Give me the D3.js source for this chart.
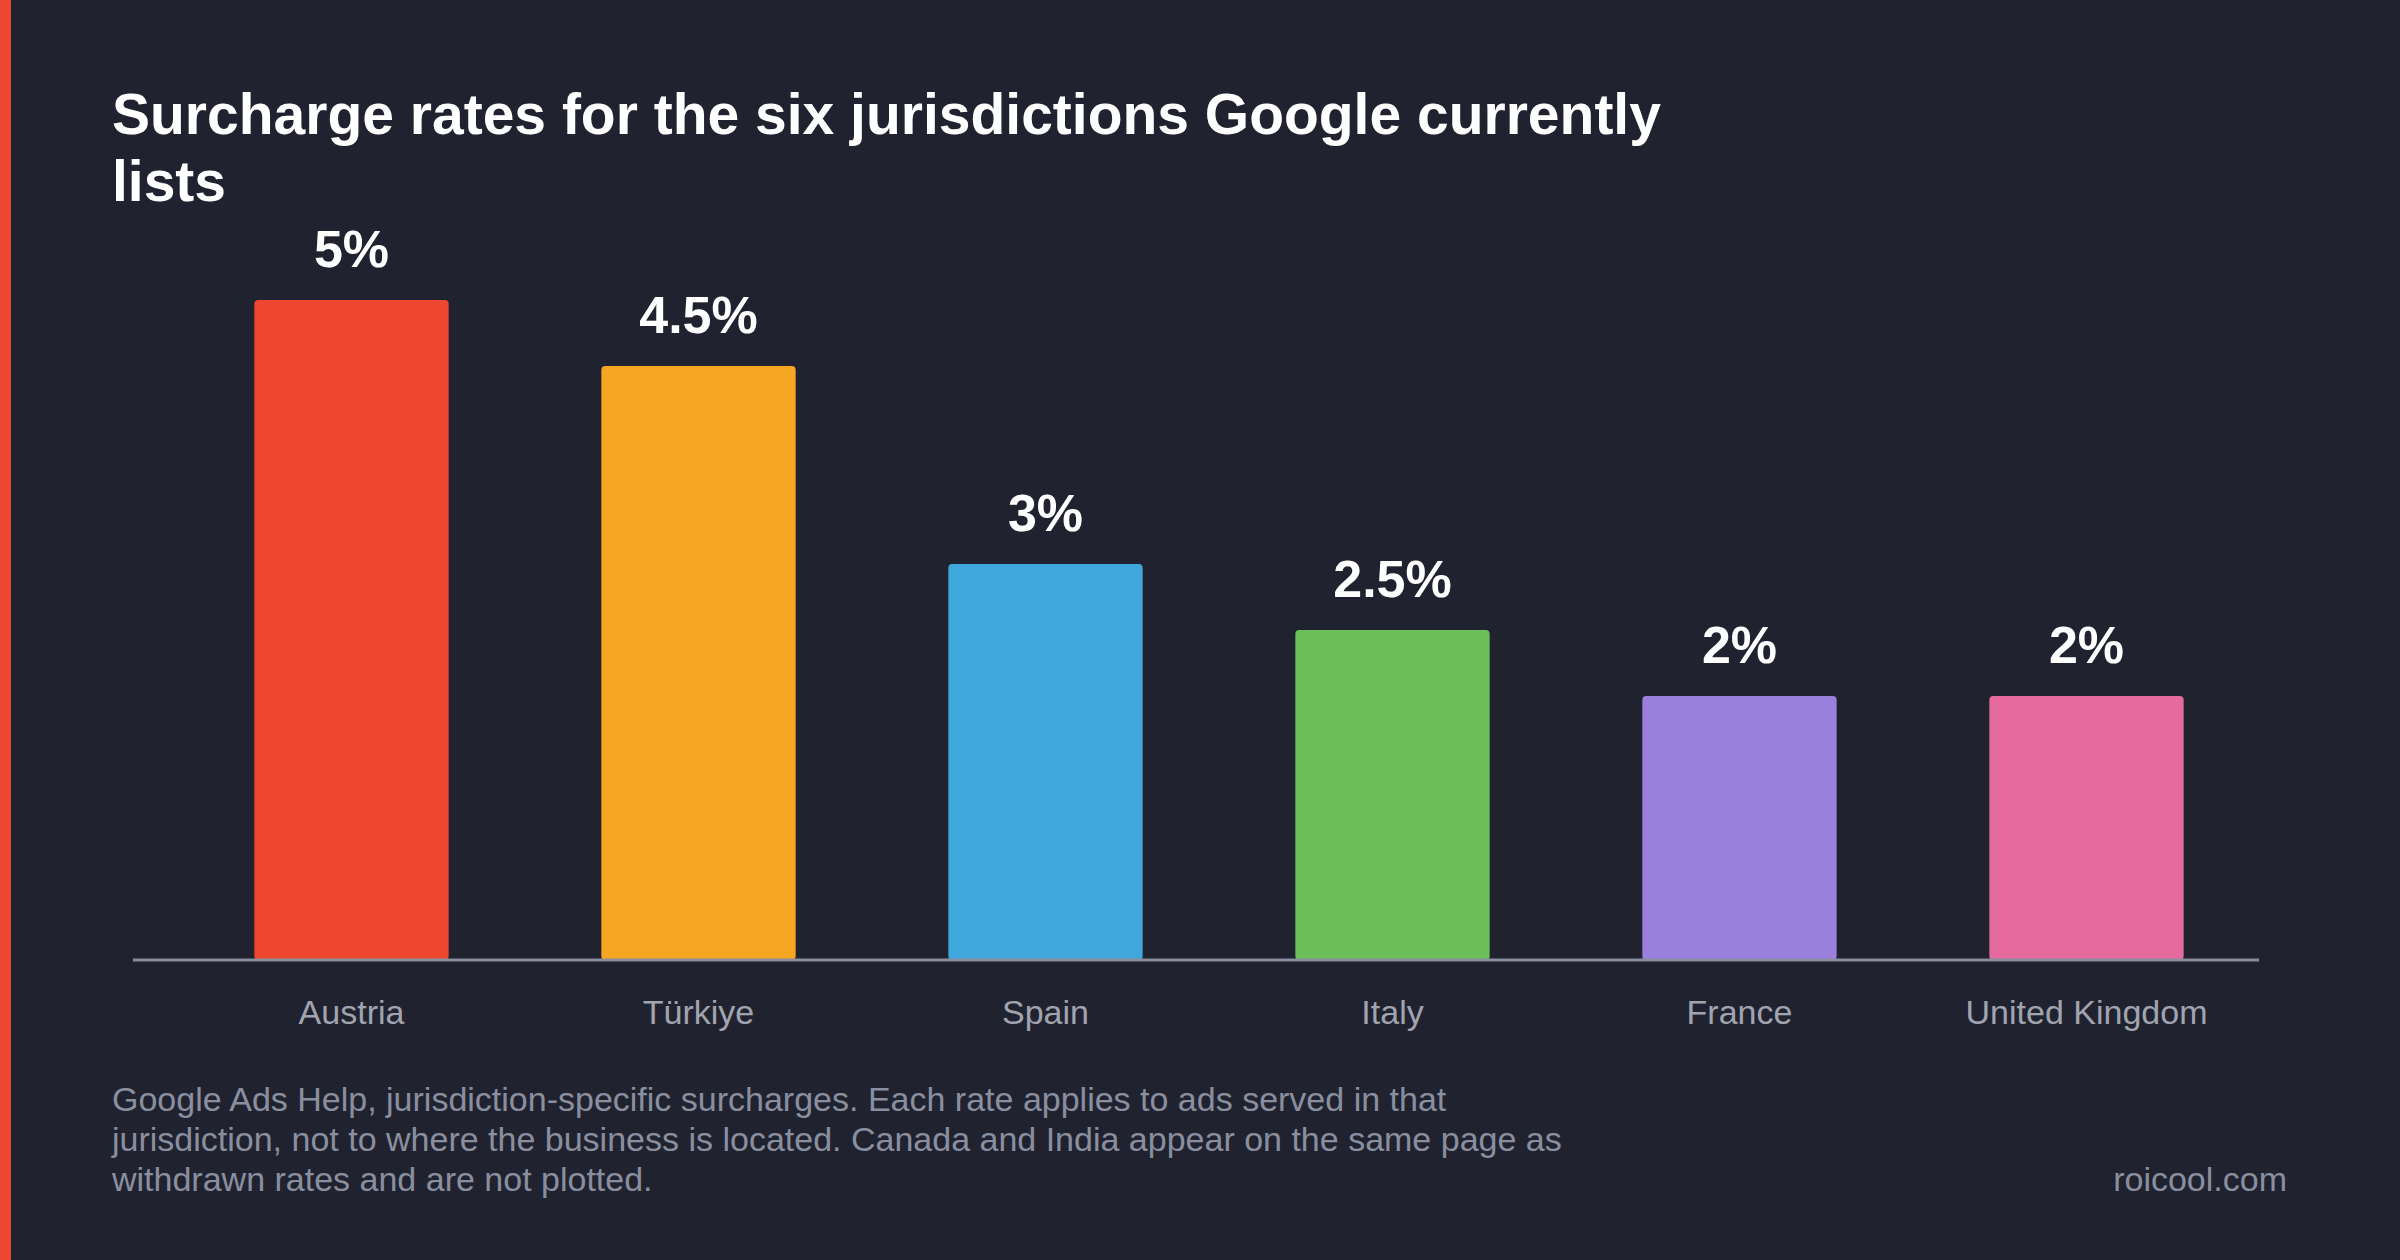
<!DOCTYPE html>
<html>
<head>
<meta charset="utf-8">
<script src="https://cdn.jsdelivr.net/npm/d3@7"></script>
<style>
  body { margin: 0; background: #20232f; }
  svg { display: block; font-family: "Helvetica Neue", Arial, "Liberation Sans", sans-serif; }
</style>
</head>
<body>
<svg></svg>
<script>
// chart size
var width = 2400;
var height = 1260;

// data
var countries = ["Austria", "Türkiye", "Spain", "Italy", "France", "United Kingdom"];
var rates = [5, 4.5, 3, 2.5, 2, 2];
var rateLabels = ["5%", "4.5%", "3%", "2.5%", "2%", "2%"];
var colors = ["#ee4730", "#f5a623", "#3fa7dc", "#6abf59", "#9b7fdc", "#e56b9e"];
var notes = [
  "Google Ads Help, jurisdiction-specific surcharges. Each rate applies to ads served in that",
  "jurisdiction, not to where the business is located. Canada and India appear on the same page as",
  "withdrawn rates and are not plotted."
];

var svg = d3.select("svg")
  .attr("width", width)
  .attr("height", height);

svg.append("rect").attr("width", width).attr("height", height).attr("fill", "#20232f");
svg.append("rect").attr("width", 11).attr("height", height).attr("fill", "#ee4730");

// title
var title = svg.append("text")
  .attr("x", 112).attr("y", 134)
  .attr("fill", "#ffffff").attr("font-size", 57).attr("font-weight", "bold");
title.append("tspan").attr("x", 112).text("Surcharge rates for the six jurisdictions Google currently");
title.append("tspan").attr("x", 112).attr("dy", 67).text("lists");

// scales
var x = d3.scaleBand()
  .domain(countries)
  .range([178, 2260])
  .paddingInner(0.44)
  .paddingOuter(0.22);

var baseY = 960;
var y = d3.scaleLinear().domain([0, 5]).range([baseY, 300]);

// bars
var g = svg.selectAll("g.bar")
  .data(countries)
  .enter()
  .append("g")
  .attr("class", "bar");

g.append("rect")
  .attr("x", function(d) { return x(d); })
  .attr("y", function(d, i) { return y(rates[i]); })
  .attr("width", x.bandwidth())
  .attr("height", function(d, i) { return baseY - y(rates[i]); })
  .attr("rx", 4)
  .attr("fill", function(d, i) { return colors[i]; });

g.append("text")
  .attr("x", function(d) { return x(d) + x.bandwidth() / 2; })
  .attr("y", function(d, i) { return y(rates[i]) - 33; })
  .attr("text-anchor", "middle")
  .attr("fill", "#ffffff").attr("font-size", 52).attr("font-weight", "bold")
  .text(function(d, i) { return rateLabels[i]; });

// axis
var axis = svg.append("g")
  .attr("transform", "translate(0," + baseY + ")")
  .call(d3.axisBottom(x).tickSize(0).tickPadding(40));
axis.select(".domain").attr("stroke", "#8a8fa0").attr("stroke-width", 3)
  .attr("d", "M133,0H2259");
axis.selectAll("text")
  .attr("fill", "#a0a4b0").attr("font-size", 34)
  .attr("font-family", "\"Helvetica Neue\", Arial, \"Liberation Sans\", sans-serif");

// footnote
svg.selectAll("text.note")
  .data(notes)
  .enter()
  .append("text")
  .attr("class", "note")
  .attr("x", 112)
  .attr("y", function(d, i) { return 1111 + i * 40; })
  .attr("fill", "#8a8fa0").attr("font-size", 34)
  .text(function(d) { return d; });

svg.append("text")
  .attr("x", 2287).attr("y", 1191)
  .attr("text-anchor", "end")
  .attr("fill", "#8a8fa0").attr("font-size", 34)
  .text("roicool.com");
</script>
</body>
</html>
